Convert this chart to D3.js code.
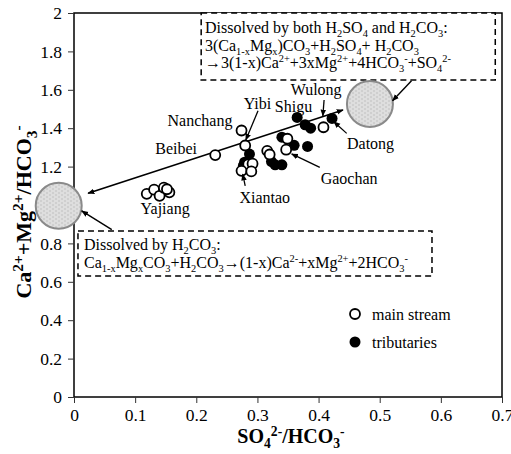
<!DOCTYPE html>
<html>
<head>
<meta charset="utf-8">
<script src="https://cdn.jsdelivr.net/npm/d3@7"></script>
<style>
  body { margin: 0; background: #fff; }
  svg text { font-family: "Liberation Serif", "Times New Roman", serif; fill: #000; }
</style>
</head>
<body>
<svg id="chart" width="511" height="454"></svg>
<script>
// main stream samples (open circles)
var mainX = [0.119, 0.131, 0.140, 0.147, 0.156, 0.152, 0.231, 0.274, 0.280, 0.408, 0.316, 0.320, 0.349, 0.347, 0.285, 0.292, 0.274, 0.290];
var mainY = [1.058, 1.080, 1.048, 1.090, 1.066, 1.082, 1.260, 1.388, 1.310, 1.405, 1.282, 1.263, 1.345, 1.288, 1.212, 1.215, 1.178, 1.175];
// tributaries (filled)
var tribX = [0.365, 0.378, 0.387, 0.422, 0.340, 0.360, 0.382, 0.287, 0.279, 0.277, 0.323, 0.329, 0.340];
var tribY = [1.456, 1.418, 1.400, 1.451, 1.353, 1.311, 1.305, 1.265, 1.223, 1.205, 1.226, 1.209, 1.209];

var xTicks = [0, 0.1, 0.2, 0.3, 0.4, 0.5, 0.6, 0.7];
var xTickLabels = ['0', '0.1', '0.2', '0.3', '0.4', '0.5', '0.6', '0.7'];
var yTicks = [0, 0.2, 0.4, 0.6, 0.8, 1, 1.2, 1.4, 1.6, 1.8, 2];
var yTickLabels = ['0', '0.2', '0.4', '0.6', '0.8', '1', '1.2', '1.4', '1.6', '1.8', '2'];

// site names and where they sit (data units)
var siteNames = ['Nanchang', 'Beibei', 'Yibi', 'Shigu', 'Wulong', 'Datong', 'Gaochan', 'Xiantao', 'Yajiang'];
var siteLabelX = [0.206, 0.167, 0.300, 0.359, 0.396, 0.485, 0.450, 0.312, 0.149];
var siteLabelY = [1.443, 1.297, 1.531, 1.516, 1.604, 1.323, 1.141, 1.042, 0.984];
// pointers from label to sample [x1, y1, x2, y2]
var pointers = [
  [0.301, 1.491, 0.281, 1.339],
  [0.409, 1.547, 0.407, 1.464],
  [0.446, 1.373, 0.425, 1.434],
  [0.402, 1.196, 0.356, 1.266],
  [0.280, 1.099, 0.276, 1.161]
];

// mixing line and end-member circles
var mixLine = [[0.023, 1.061], [0.44, 1.495]];
var endMembers = [[-0.025, 0.996], [0.484, 1.526]];
var boxArrows = [
  [0.0618, 0.872, 0.0126, 0.969],
  [0.552, 1.647, 0.521, 1.543]
];

var topBoxLines = [
  'Dissolved by both H_{2}SO_{4} and H_{2}CO_{3}:',
  '3(Ca_{1-x}Mg_{x})CO_{3}+H_{2}SO_{4}+  H_{2}CO_{3}',
  '\u21923(1-x)Ca^{2+}+3xMg^{2+}+4HCO_{3}^{-}+SO_{4}^{2-}'
];
var bottomBoxLines = [
  'Dissolved by H_{2}CO_{3}:',
  'Ca_{1-x}Mg_{x}CO_{3}+H_{2}CO_{3}\u2192(1-x)Ca^{2-}+xMg^{2+}+2HCO_{3}^{-}'
];

var serif = '"Liberation Serif", "Times New Roman", serif';
var svg = d3.select('#chart');
var x = d3.scaleLinear().domain([0, 0.7]).range([74, 502]);
var y = d3.scaleLinear().domain([0, 2]).range([397, 13]);

var defs = svg.append('defs');
defs.append('marker')
    .attr('id', 'arrow')
    .attr('viewBox', '0 0 10 10')
    .attr('refX', 9).attr('refY', 5)
    .attr('markerWidth', 7).attr('markerHeight', 7)
    .attr('markerUnits', 'userSpaceOnUse')
    .attr('orient', 'auto')
  .append('path')
    .attr('d', 'M0,1 L10,5 L0,9 z')
    .attr('fill', '#000');
defs.append('marker')
    .attr('id', 'arrowStart')
    .attr('viewBox', '0 0 10 10')
    .attr('refX', 1).attr('refY', 5)
    .attr('markerWidth', 7).attr('markerHeight', 7)
    .attr('markerUnits', 'userSpaceOnUse')
    .attr('orient', 'auto')
  .append('path')
    .attr('d', 'M10,1 L0,5 L10,9 z')
    .attr('fill', '#000');

var pat = defs.append('pattern')
    .attr('id', 'brick')
    .attr('width', 6).attr('height', 4)
    .attr('patternUnits', 'userSpaceOnUse');
pat.append('rect').attr('width', 6).attr('height', 4).attr('fill', '#cfcfcf');
pat.append('path').attr('d', 'M0,1 H4 M3,3 H6 M0,3 H1').attr('stroke', '#ededed').attr('stroke-width', 1);

// writes "_{..}" as subscript and "^{..}" as superscript
function rich(t, str, size, small) {
  small = small || 0.65;
  var parts = str.match(/_\{[^}]*\}|\^\{[^}]*\}|[^_^]+/g);
  var shift = 0;
  parts.forEach(function(p) {
    var target = 0, s = p, fs = size;
    if (p[0] === '_') { target = 0.25 * size; s = p.slice(2, -1); fs = size * small; }
    else if (p[0] === '^') { target = -0.36 * size; s = p.slice(2, -1); fs = size * small; }
    t.append('tspan')
      .attr('dy', target - shift)
      .attr('font-size', fs)
      .text(s);
    shift = target;
  });
}

// frame
svg.append('rect')
  .attr('x', x(0)).attr('y', y(2))
  .attr('width', x(0.7) - x(0)).attr('height', y(0) - y(2))
  .attr('fill', 'none').attr('stroke', '#000').attr('stroke-width', 1.5);

// axes
var yAxis = svg.append('g')
  .attr('transform', 'translate(' + x(0) + ',0)')
  .call(d3.axisLeft(y).tickValues(yTicks).tickSize(6).tickPadding(6)
    .tickFormat(function(d, i) { return yTickLabels[i]; }));
var xAxis = svg.append('g')
  .attr('transform', 'translate(0,' + y(0) + ')')
  .call(d3.axisBottom(x).tickValues(xTicks).tickSize(6).tickPadding(6)
    .tickFormat(function(d, i) { return xTickLabels[i]; }));
[xAxis, yAxis].forEach(function(a) {
  a.attr('font-family', null).attr('font-size', null);
  a.select('.domain').remove();
  a.selectAll('line').attr('stroke', '#333');
  a.selectAll('text').style('font-family', serif).style('font-size', '17.5px');
});

// axis titles
var xt = svg.append('text')
  .attr('x', 291).attr('y', 443)
  .attr('text-anchor', 'middle')
  .attr('font-weight', 'bold');
rich(xt, 'SO_{4}^{2-}/HCO_{3}^{-}', 20, 0.68);

var yt = svg.append('text')
  .attr('transform', 'translate(31,212) rotate(-90)')
  .attr('text-anchor', 'middle')
  .attr('font-weight', 'bold');
rich(yt, 'Ca^{2+}+Mg^{2+}/HCO_{3}^{-}', 22, 0.7);

// dashed boxes
function dashBox(x0, y0, x1, y1) {
  svg.append('rect')
    .attr('x', x(x0)).attr('y', y(y0))
    .attr('width', x(x1) - x(x0)).attr('height', y(y1) - y(y0))
    .attr('fill', '#fff').attr('stroke', '#000')
    .attr('stroke-width', 1.5).attr('stroke-dasharray', '6,4');
}
dashBox(0.208, 2.0, 0.689, 1.651);
dashBox(0.0065, 0.865, 0.5855, 0.630);

topBoxLines.forEach(function(l, i) {
  var t = svg.append('text').attr('x', 205).attr('y', 33 + i * 17.5);
  rich(t, l, 16);
});
bottomBoxLines.forEach(function(l, i) {
  var t = svg.append('text').attr('x', 84).attr('y', 250 + i * 18);
  rich(t, l, 16);
});

// end-member circles
svg.selectAll('.end')
  .data(endMembers)
  .enter().append('circle')
  .attr('class', 'end')
  .attr('cx', function(d) { return x(d[0]); })
  .attr('cy', function(d) { return y(d[1]); })
  .attr('r', 23)
  .attr('fill', 'url(#brick)')
  .attr('stroke', '#8a8a8a').attr('stroke-width', 2);

// mixing line, arrows at both ends
svg.append('line')
  .attr('x1', x(mixLine[0][0])).attr('y1', y(mixLine[0][1]))
  .attr('x2', x(mixLine[1][0])).attr('y2', y(mixLine[1][1]))
  .attr('stroke', '#000').attr('stroke-width', 1.6)
  .attr('marker-start', 'url(#arrowStart)')
  .attr('marker-end', 'url(#arrow)');

svg.selectAll('.box-arrow')
  .data(boxArrows)
  .enter().append('line')
  .attr('class', 'box-arrow')
  .attr('x1', function(d) { return x(d[0]); })
  .attr('y1', function(d) { return y(d[1]); })
  .attr('x2', function(d) { return x(d[2]); })
  .attr('y2', function(d) { return y(d[3]); })
  .attr('stroke', '#000').attr('stroke-width', 1.4)
  .attr('marker-end', 'url(#arrow)');

// samples
var mainPts = mainX.map(function(v, i) { return [v, mainY[i]]; });
var tribPts = tribX.map(function(v, i) { return [v, tribY[i]]; });

svg.selectAll('.trib')
  .data(tribPts)
  .enter().append('circle')
  .attr('class', 'trib')
  .attr('cx', function(d) { return x(d[0]); })
  .attr('cy', function(d) { return y(d[1]); })
  .attr('r', 5.5)
  .attr('fill', '#000');

svg.selectAll('.main')
  .data(mainPts)
  .enter().append('circle')
  .attr('class', 'main')
  .attr('cx', function(d) { return x(d[0]); })
  .attr('cy', function(d) { return y(d[1]); })
  .attr('r', 5)
  .attr('fill', '#fff')
  .attr('stroke', '#000').attr('stroke-width', 1.8);

// site labels and pointers
svg.selectAll('.site')
  .data(siteNames)
  .enter().append('text')
  .attr('class', 'site')
  .attr('x', function(d, i) { return x(siteLabelX[i]); })
  .attr('y', function(d, i) { return y(siteLabelY[i]); })
  .attr('dy', '0.35em')
  .attr('text-anchor', 'middle')
  .attr('font-size', 16)
  .text(function(d) { return d; });

svg.selectAll('.pointer')
  .data(pointers)
  .enter().append('line')
  .attr('class', 'pointer')
  .attr('x1', function(d) { return x(d[0]); })
  .attr('y1', function(d) { return y(d[1]); })
  .attr('x2', function(d) { return x(d[2]); })
  .attr('y2', function(d) { return y(d[3]); })
  .attr('stroke', '#000').attr('stroke-width', 1.3)
  .attr('marker-end', 'url(#arrow)');

// legend
var legend = svg.append('g').attr('transform', 'translate(355,314)');
legend.append('circle').attr('r', 5).attr('fill', '#fff').attr('stroke', '#000').attr('stroke-width', 1.8);
legend.append('text').attr('x', 17).attr('dy', '0.35em').attr('font-size', 16).text('main stream');
legend.append('circle').attr('cy', 28).attr('r', 5.5).attr('fill', '#000');
legend.append('text').attr('x', 17).attr('y', 28).attr('dy', '0.35em').attr('font-size', 16).text('tributaries');
</script>
</body>
</html>
